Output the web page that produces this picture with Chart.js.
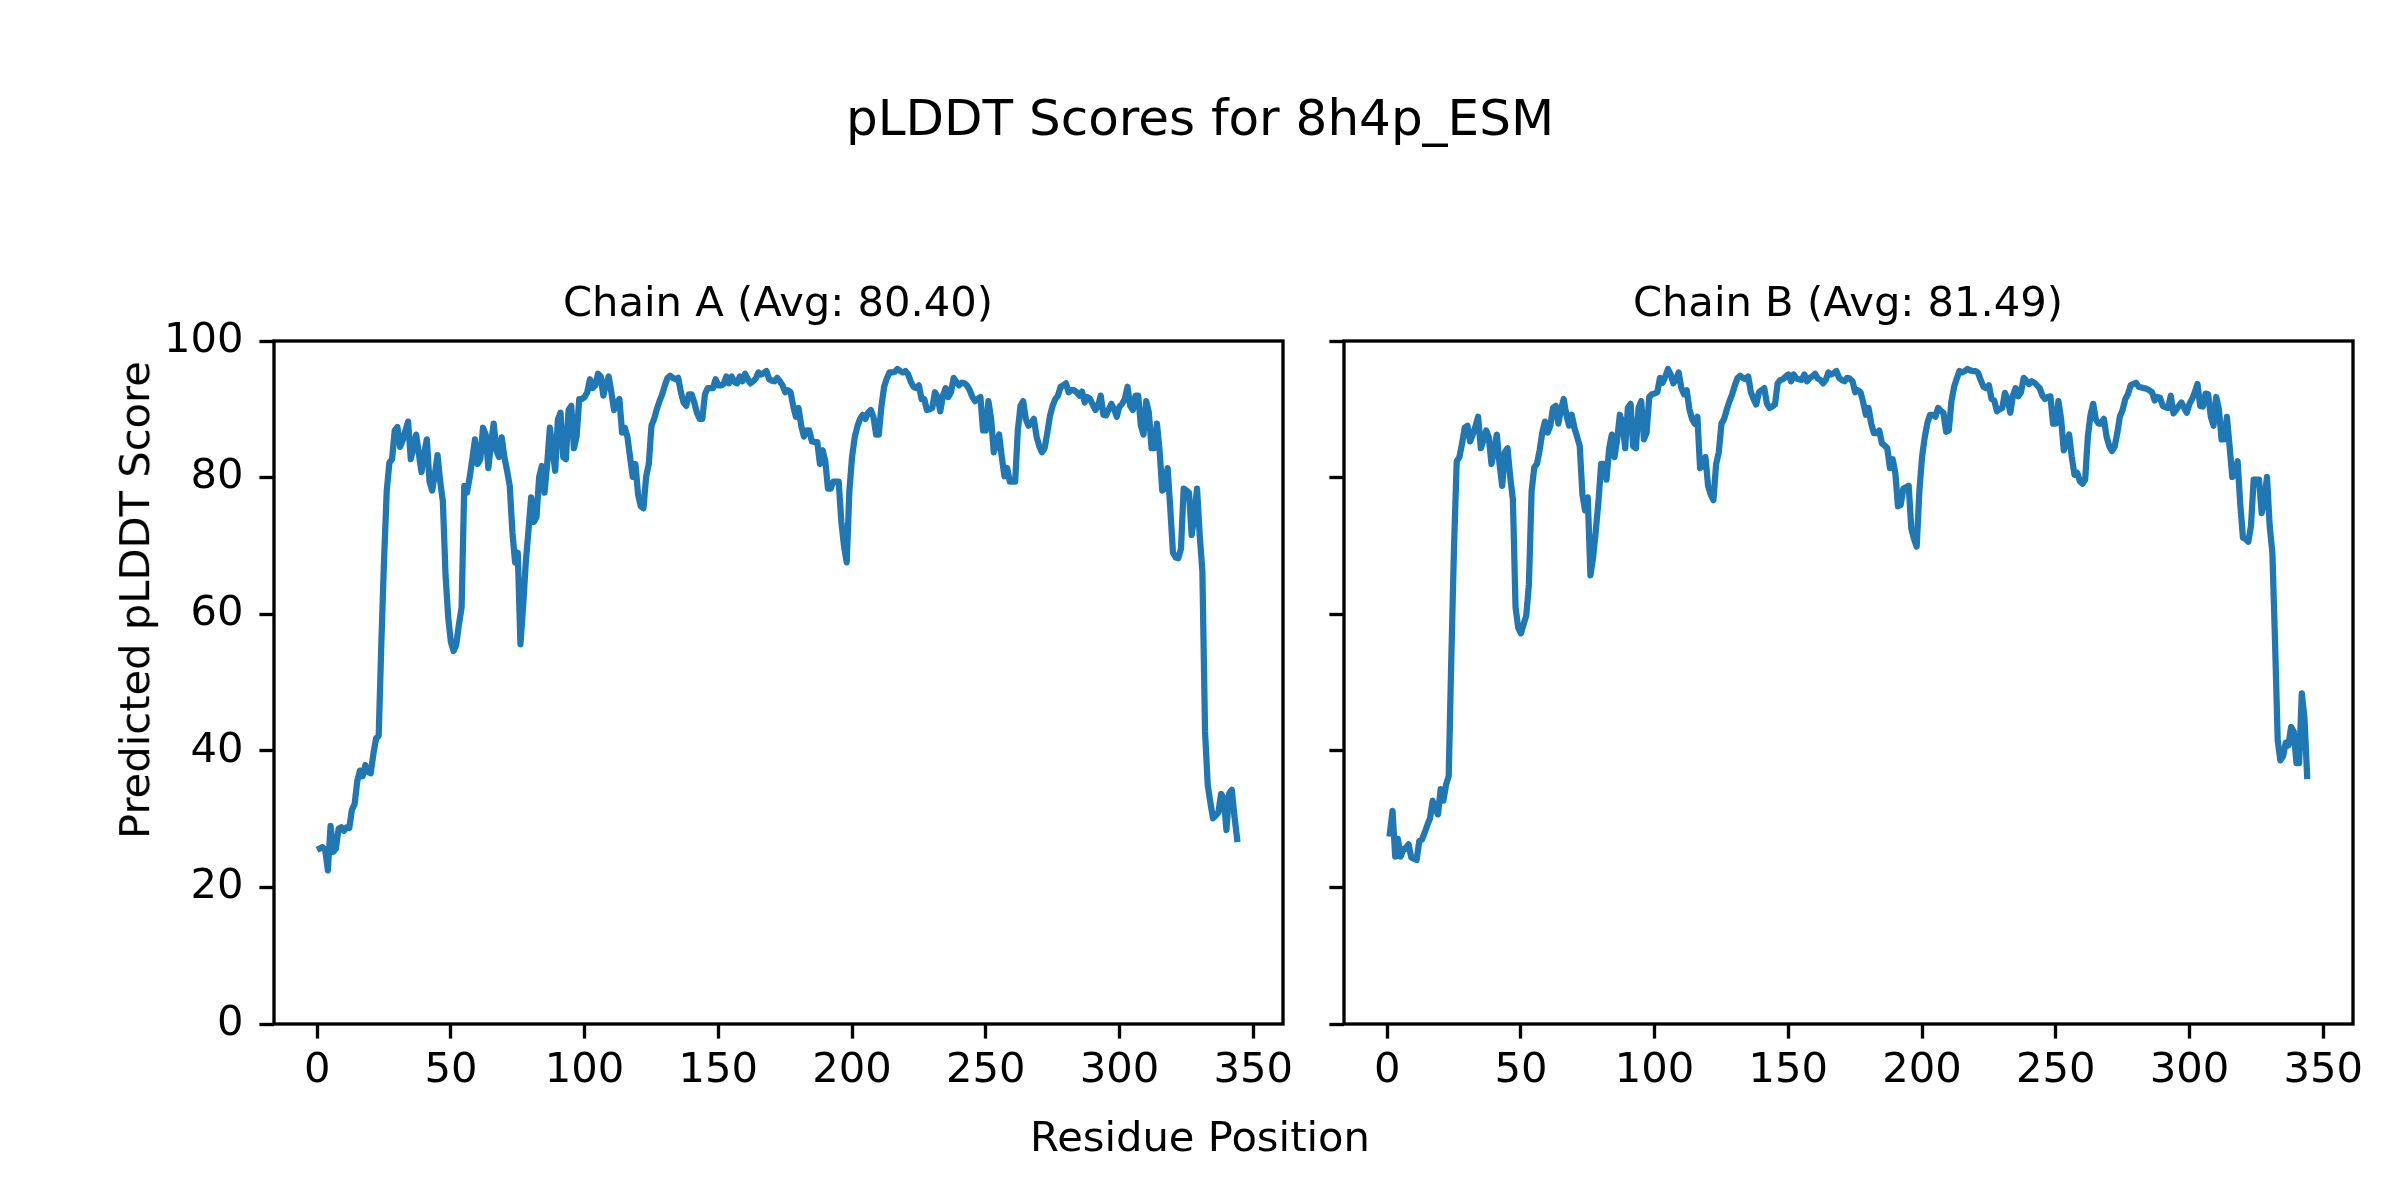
<!DOCTYPE html>
<html>
<head>
<meta charset="utf-8">
<script src="https://cdn.jsdelivr.net/npm/chart.js@4.4.1/dist/chart.umd.min.js"></script>
<style>
  html, body { margin: 0; padding: 0; background: #ffffff; }
  #fig { position: relative; width: 2400px; height: 1200px; background: #ffffff; overflow: hidden; }
  #fig canvas { position: absolute; left: 0; top: 0; }
  .txt { position: absolute; font-family: "DejaVu Sans", sans-serif; color: #000; white-space: nowrap; line-height: 1; transform: translate(-50%, -50%); }
</style>
</head>
<body>
<div id="fig">
  <canvas id="cA" width="2400" height="1200"></canvas>
  <canvas id="cB" width="2400" height="1200"></canvas>
  <div class="txt" id="supTitle" style="left:1200px; top:118px; font-size:50px;"></div>
  <div class="txt" id="titleA" style="left:778px; top:302px; font-size:41.67px;"></div>
  <div class="txt" id="titleB" style="left:1848px; top:302px; font-size:41.67px;"></div>
  <div class="txt" id="xLabel" style="left:1200px; top:1137px; font-size:41.67px;"></div>
  <div class="txt" id="yLabel" style="left:135px; top:600px; font-size:41.67px; transform: translate(-50%, -50%) rotate(-90deg);"></div>
</div>
<script>
// ---------------- data ----------------
const figureTitle = "pLDDT Scores for 8h4p_ESM";
const chainTitles = ["Chain A (Avg: 80.40)", "Chain B (Avg: 81.49)"];
const xAxisLabel = "Residue Position";
const yAxisLabel = "Predicted pLDDT Score";
const xTicks = [0, 50, 100, 150, 200, 250, 300, 350];
const yTicks = [0, 20, 40, 60, 80, 100];

// pLDDT per residue, residues 1..344
const chainA = [
  25.7, 25.9, 25.5, 22.5, 29.0, 25.2, 25.7, 28.6, 28.8,
  28.3, 28.8, 28.7, 31.4, 32.2, 35.6, 37.1, 36.3, 37.9, 36.9,
  36.7, 39.5, 41.8, 42.2, 55.9, 68.0, 78.0, 82.2, 82.7, 86.9,
  87.4, 84.5, 85.5, 86.9, 88.2, 82.7, 84.5, 86.3, 83.5, 80.8,
  83.5, 85.6, 79.4, 78.1, 80.5, 83.3, 79.4, 76.5, 65.7, 59.5,
  55.9, 54.6, 55.5, 58.5, 61.0, 78.8, 77.8, 80.0, 82.7, 85.6,
  82.0, 82.7, 87.3, 86.3, 81.4, 85.0, 87.9, 84.0, 83.0, 85.9,
  83.0, 81.0, 78.8, 72.0, 67.6, 69.0, 55.6, 61.1, 67.6, 72.2,
  77.1, 73.5, 74.2, 80.1, 81.7, 77.8, 82.0, 87.3, 84.0, 81.0,
  88.5, 89.5, 83.0, 82.7, 89.9, 90.5, 84.3, 86.0, 91.5, 91.5,
  91.8, 92.5, 94.4, 93.1, 93.5, 95.2, 94.8, 92.0, 93.8, 94.8,
  92.5, 89.9, 91.0, 91.5, 86.6, 87.3, 86.0, 83.0, 80.1, 82.0,
  77.5, 75.8, 75.5, 80.1, 82.0, 87.6, 88.6, 90.0, 91.2, 92.2,
  93.5, 94.6, 94.9, 94.6, 94.4, 94.6, 92.5, 91.0, 90.5, 92.2,
  92.2, 91.0, 89.5, 88.6, 88.6, 92.2, 93.1, 93.1, 93.1, 94.4,
  93.5, 93.5, 93.7, 94.8, 93.8, 94.8, 94.0, 93.8, 94.8, 94.1,
  95.2, 94.4, 93.8, 94.1, 94.5, 95.4, 95.1, 95.3, 95.6, 94.4,
  94.2, 94.1, 94.6, 94.1, 93.5, 92.5, 92.8, 92.5, 90.5, 88.9,
  90.2, 87.6, 86.0, 86.9, 86.9, 85.3, 85.2, 85.2, 82.0, 84.0,
  82.4, 78.4, 78.4, 79.4, 79.4, 79.4, 73.5, 70.0, 67.6, 78.0,
  83.0, 85.9, 87.5, 88.6, 89.2, 88.6, 89.5, 89.9, 88.9, 86.3,
  86.3, 90.5, 93.3, 94.5, 95.4, 95.4, 95.5, 95.9, 95.6, 95.4,
  95.6, 95.1, 94.0, 93.3, 93.1, 93.5, 91.5, 91.5, 89.9, 90.0,
  90.2, 92.5, 91.8, 89.7, 92.0, 93.1, 91.8, 92.5, 94.6, 94.0,
  93.5, 93.9, 93.8, 93.5, 92.8, 91.8, 91.2, 91.5, 91.8, 86.9,
  86.9, 91.2, 88.6, 83.7, 85.0, 86.3, 83.0, 80.2, 81.4, 79.4,
  79.4, 79.4, 87.0, 90.5, 91.2, 88.5, 87.6, 87.9, 88.6, 86.0,
  84.6, 83.7, 84.3, 86.5, 89.0, 90.5, 91.5, 92.0, 93.3, 93.5,
  93.8, 92.5, 92.8, 92.8, 92.5, 92.0, 92.6, 91.0, 91.8, 91.5,
  90.7, 89.9, 90.5, 92.0, 89.2, 89.1, 90.0, 90.8, 90.0, 88.9,
  90.4, 90.8, 91.5, 93.3, 90.5, 89.9, 92.0, 92.0, 87.6, 86.3,
  91.2, 89.5, 84.3, 84.3, 87.9, 84.0, 78.1, 78.4, 81.4, 75.5,
  69.0, 68.3, 68.2, 69.6, 78.4, 78.1, 77.8, 71.6, 74.5, 78.4,
  71.6, 66.3, 42.8, 35.0, 32.4, 30.1, 30.5, 31.0, 33.7, 33.0,
  28.4, 33.7, 34.3, 30.4, 27.1
];

const chainB = [
  27.9, 31.2, 24.5, 27.1, 24.5, 25.5, 25.8, 26.3, 24.4,
  24.2, 24.0, 26.8, 27.0, 28.0, 29.1, 30.1, 32.7, 31.5, 30.7,
  34.4, 32.7, 35.0, 36.3, 53.9, 70.0, 82.4, 83.0, 85.0, 87.3,
  87.6, 85.3, 86.3, 87.5, 88.9, 84.3, 85.5, 86.9, 85.9, 82.0,
  84.0, 86.3, 82.0, 78.8, 83.7, 84.3, 80.1, 76.8, 61.0, 58.0,
  57.2, 58.5, 59.8, 64.4, 78.0, 81.5, 82.0, 84.0, 86.6, 88.2,
  86.6, 87.6, 90.2, 90.5, 87.9, 90.0, 91.5, 89.2, 87.6, 89.2,
  87.3, 86.0, 84.6, 77.5, 75.2, 77.1, 65.7, 68.3, 72.2, 76.5,
  82.0, 82.0, 79.7, 84.3, 86.3, 83.0, 85.6, 89.2, 87.9, 84.3,
  90.2, 90.8, 84.6, 84.3, 90.2, 91.2, 85.6, 86.6, 91.8, 92.2,
  92.3, 92.5, 94.6, 93.9, 94.8, 95.9, 95.1, 93.8, 94.4, 95.4,
  93.1, 92.2, 92.8, 90.0, 88.6, 87.9, 88.9, 81.4, 81.7, 83.0,
  78.8, 77.5, 76.7, 82.0, 83.7, 87.9, 88.6, 90.0, 91.2, 92.2,
  93.5, 94.6, 94.9, 94.6, 94.4, 94.8, 92.5, 91.5, 90.7, 92.5,
  92.8, 93.1, 90.8, 90.2, 90.4, 90.7, 93.8, 94.3, 94.4, 94.8,
  95.1, 94.1, 95.1, 94.5, 94.4, 94.3, 95.1, 94.1, 94.6, 94.8,
  95.2, 94.5, 94.3, 93.8, 94.3, 95.4, 95.1, 95.3, 95.6, 94.6,
  94.3, 94.1, 94.6, 94.5, 94.1, 92.5, 92.8, 92.5, 91.0, 89.2,
  90.2, 87.9, 86.5, 86.5, 86.9, 85.0, 84.7, 84.3, 81.4, 82.7,
  80.7, 75.8, 76.0, 78.4, 78.6, 78.8, 72.5, 71.0, 69.9, 78.0,
  83.0, 85.9, 88.0, 89.2, 89.2, 88.9, 90.2, 89.8, 89.5, 86.7,
  86.9, 91.2, 93.3, 94.5, 95.6, 95.4, 95.6, 95.9, 95.7, 95.6,
  95.6, 95.3, 94.2, 93.3, 93.1, 93.5, 91.5, 91.3, 89.7, 90.0,
  90.2, 92.4, 91.5, 89.5, 92.0, 93.1, 91.9, 92.5, 94.6, 94.2,
  93.7, 94.1, 93.9, 93.5, 93.1, 92.0, 91.5, 91.8, 91.9, 87.9,
  87.9, 91.2, 88.6, 84.0, 85.0, 86.3, 83.0, 80.4, 80.7, 79.5,
  79.1, 79.7, 86.0, 89.2, 90.8, 88.5, 87.9, 87.9, 88.6, 86.0,
  84.6, 83.9, 84.5, 86.5, 89.0, 89.9, 91.5, 92.2, 93.5, 93.7,
  93.9, 93.3, 93.2, 93.1, 93.0, 92.8, 92.5, 91.3, 91.8, 91.7,
  90.5, 90.3, 90.2, 92.0, 89.4, 89.9, 90.5, 91.0, 90.2, 89.5,
  90.8, 91.5, 92.5, 93.7, 90.5, 90.4, 92.3, 92.2, 88.9, 87.6,
  91.8, 90.0, 85.6, 85.6, 88.9, 84.6, 80.1, 80.4, 82.4, 76.1,
  71.2, 71.0, 70.6, 72.9, 79.7, 79.7, 79.7, 74.8, 76.8, 80.1,
  72.9, 69.0, 55.9, 41.5, 38.6, 39.2, 41.2, 40.8, 43.5, 42.8,
  38.2, 38.2, 48.4, 44.8, 36.3
];

// residue positions (1-based)
const residuesA = chainA.map((_, i) => i + 1);
const residuesB = chainB.map((_, i) => i + 1);

// ---------------- text ----------------
document.getElementById('supTitle').textContent = figureTitle;
document.getElementById('titleA').textContent = chainTitles[0];
document.getElementById('titleB').textContent = chainTitles[1];
document.getElementById('xLabel').textContent = xAxisLabel;
document.getElementById('yLabel').textContent = yAxisLabel;

// ---------------- style ----------------
const FONT = { family: "'DejaVu Sans', sans-serif", size: 41.67 };
const LINE_COLOR = '#1f77b4';
const SPINE_W = 3.33;
const TICK_LEN = 14.6;
const X_MIN = -16.15, X_MAX = 361.15;

const framePlugin = {
  id: 'frame',
  afterDatasetsDraw(chart) {
    const a = chart.chartArea;
    const ctx = chart.ctx;
    ctx.save();
    ctx.strokeStyle = '#000';
    ctx.lineWidth = SPINE_W;
    ctx.lineJoin = 'miter';
    ctx.strokeRect(a.left, a.top, a.right - a.left, a.bottom - a.top);
    ctx.restore();
  }
};

function makeChart(canvasId, xs, ys, showYLabels, padLeft, padRight, yWidth) {
  const pts = xs.map((x, i) => ({ x: x, y: ys[i] }));
  return new Chart(document.getElementById(canvasId), {
    type: 'line',
    data: {
      datasets: [{
        data: pts,
        borderColor: LINE_COLOR,
        borderWidth: 6.25,
        pointRadius: 0,
        tension: 0,
        fill: false,
        borderJoinStyle: 'round',
        borderCapStyle: 'square'
      }]
    },
    options: {
      responsive: false,
      animation: false,
      devicePixelRatio: 1,
      layout: { padding: { left: padLeft, right: padRight, top: 341, bottom: 1200 - 1024 - 80 } },
      plugins: { legend: { display: false }, tooltip: { enabled: false }, title: { display: false } },
      scales: {
        x: {
          type: 'linear',
          min: X_MIN,
          max: X_MAX,
          afterBuildTicks: s => { s.ticks = xTicks.map(v => ({ value: v })); },
          afterFit: s => { s.height = 80; },
          ticks: { font: FONT, color: '#000', padding: 8, maxRotation: 0, autoSkip: false, includeBounds: false },
          grid: { drawOnChartArea: false, drawTicks: true, tickLength: TICK_LEN, tickWidth: SPINE_W, tickColor: '#000', color: '#000' },
          border: { display: false }
        },
        y: {
          type: 'linear',
          min: 0,
          max: 100,
          afterBuildTicks: s => { s.ticks = yTicks.map(v => ({ value: v })); },
          afterFit: s => { s.width = yWidth; },
          ticks: {
            font: FONT, color: '#000', padding: 16,
            callback: v => showYLabels ? String(v) : ''
          },
          grid: { drawOnChartArea: false, drawTicks: true, tickLength: TICK_LEN, tickWidth: SPINE_W, tickColor: '#000', color: '#000' },
          border: { display: false }
        }
      }
    },
    plugins: [framePlugin]
  });
}

// Chain A: plot area x 274..1283 ; Chain B: plot area x 1344..2353
makeChart('cA', residuesA, chainA, true, 274 - 120, 2400 - 1283, 120);
makeChart('cB', residuesB, chainB, false, 1344 - 30, 2400 - 2353, 30);
</script>
</body>
</html>
